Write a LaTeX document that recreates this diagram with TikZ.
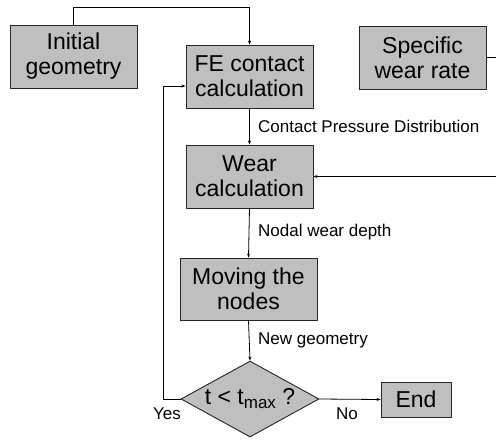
\documentclass[tikz,border=0pt]{standalone}
\usepackage{fontspec}
\setmainfont{Liberation Sans}
\usetikzlibrary{shapes.geometric,arrows.meta}

\newcommand{\tsub}[1]{\raisebox{-4pt}{\fontsize{17}{17}\selectfont #1}}

\tikzset{
    stepbox/.style={draw=black!85, line width=0.9pt, fill=black!25, align=center,
        font=\fontsize{23}{25}\selectfont, inner sep=0pt,
        minimum width=127pt, minimum height=63pt},
    testbox/.style={draw=black!85, line width=0.9pt, fill=black!25, shape=diamond,
        aspect=1.8, inner sep=0pt, minimum width=138pt, minimum height=76pt,
        font=\fontsize{23}{25}\selectfont},
    lbl/.style={font=\fontsize{17}{19}\selectfont, inner sep=0pt},
    arr/.style={-{Stealth[length=4pt,width=3pt]}, line width=0.8pt}
}

\begin{document}
\begin{tikzpicture}[x=1pt,y=-1pt]
        \useasboundingbox (0,0) rectangle (496,440);

        % boxes
        \node[stepbox] (init) at (73.5,56.5) {Initial\\geometry};
        \node[stepbox] (fe) at (249.5,76.5) {FE contact\\calculation};
        \node[stepbox] (spec) at (422.5,57.5) {Specific\\wear rate};
        \node[stepbox] (wear) at (249.5,176.5) {Wear\\calculation};
        \node[stepbox, minimum width=137pt, minimum height=62pt] (move) at (248.5,289) {Moving the\\nodes};
        \node[testbox] (dec) at (250,399) {t < t\tsub{max} ?};
        \node[stepbox, minimum width=70pt, minimum height=35pt] (end) at (416,399.5) {End};

        % helper points
        \coordinate (loop) at (163,86);
        \coordinate (rgt) at (499,57.5);

        % connectors
        \draw[arr] (init.north) -- ++(0,-17) -| (fe.north);
        \draw[arr] (fe.south) -- (wear.north);
        \draw[arr] (wear.south) -- (move.north);
        \draw[arr] (move.south) -- (dec.north);
        \draw[arr] (dec.east) -- (end.west);
        \draw[arr] (dec.west) -| (loop) -- (loop -| fe.west);
        \draw[arr] (spec.east) -- (rgt) |- (wear.east);

        % labels
        \node[lbl, anchor=west] (cpd) at (258,126) {Contact Pressure Distribution};
        \node[lbl, anchor=west] (nwd) at (258,232) {Nodal wear depth};
        \node[lbl, anchor=west] (ng) at (258,340) {New geometry};
        \node[lbl] (yes) at (167,414) {Yes};
        \node[lbl] (no) at (347,414) {No};
    \end{tikzpicture}
\end{document}
